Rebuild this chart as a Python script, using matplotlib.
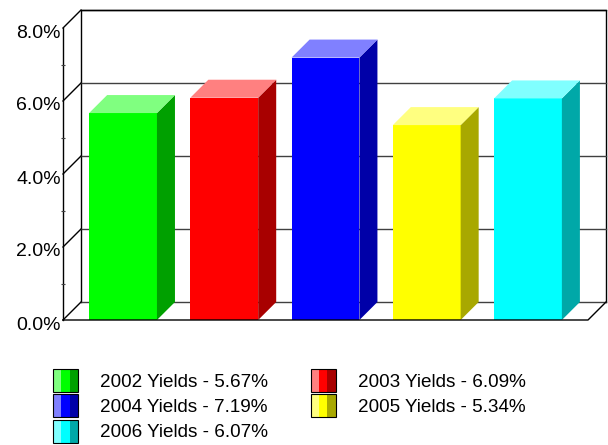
import matplotlib
matplotlib.use("Agg")
import matplotlib.pyplot as plt
import matplotlib.transforms as mtransforms
from matplotlib.patches import Polygon, Rectangle
from matplotlib.legend_handler import HandlerBase

plt.rcParams["font.family"] = ["Liberation Sans", "DejaVu Sans"]

# data
years = ["2002", "2003", "2004", "2005", "2006"]
yields = [5.67, 6.09, 7.19, 5.34, 6.07]
front_colors = ["#00ff00", "#ff0000", "#0000ff", "#ffff00", "#00ffff"]
top_colors = ["#80ff80", "#ff8080", "#8080ff", "#ffff80", "#80ffff"]
side_colors = ["#00a000", "#a80000", "#0000a8", "#a8a800", "#00a8a8"]
y_ticks = [0, 2, 4, 6, 8]
y_minor = [1, 3, 5, 7]


class StripeHandler(HandlerBase):
    # legend key drawn as light / main / dark stripes
    def create_artists(self, legend, orig_handle, xdescent, ydescent,
                       width, height, fontsize, trans):
        light, main, dark = orig_handle
        w = width / 3.0
        arts = []
        for i, c in enumerate([light, main, dark]):
            arts.append(Rectangle((-xdescent + i * w, -ydescent), w, height,
                                  facecolor=c, edgecolor="none", transform=trans))
        arts.append(Rectangle((-xdescent, -ydescent), width, height,
                              facecolor="none", edgecolor="black", lw=0.8,
                              transform=trans))
        return arts


fig = plt.figure(figsize=(6.08, 4.45), dpi=100)
ax = fig.add_axes([63 / 608, 125 / 445, 525 / 608, 292 / 445])

x0, x1 = -0.593, 4.593
ax.set_xlim(x0, x1)
ax.set_ylim(0, 8)
dx, dy = 0.178, 0.493  # depth of the pseudo-3D box in data units
bw = 0.67

for s in ax.spines.values():
    s.set_visible(False)

# back wall, grid and left wall
ax.plot([x0 + dx, x0 + dx, x1 + dx, x1 + dx], [dy, 8 + dy, 8 + dy, dy],
        color="black", lw=1, clip_on=False, zorder=1)
for t in y_ticks:
    col = "black" if t == 8 else "#404040"
    ax.plot([x0 + dx, x1 + dx], [t + dy, t + dy], color=col, lw=1,
            clip_on=False, zorder=1)
    ax.plot([x0, x0 + dx], [t, t + dy], color="black", lw=1,
            clip_on=False, zorder=1)
ax.plot([x0, x0], [0, 8], color="black", lw=1, clip_on=False, zorder=1)

# bars
xs = list(range(len(years)))
ax.bar(xs, yields, width=bw, color=front_colors, zorder=3)
for x, v, tc, sc in zip(xs, yields, top_colors, side_colors):
    r = x + bw / 2
    l = x - bw / 2
    ax.add_patch(Polygon([(r, 0), (r + dx, dy), (r + dx, v + dy), (r, v)],
                         closed=True, facecolor=sc, edgecolor="none", zorder=3))
    ax.add_patch(Polygon([(l, v), (l + dx, v + dy), (r + dx, v + dy), (r, v)],
                         closed=True, facecolor=tc, edgecolor="none", zorder=3))

# floor front edges
ax.plot([x0, x1, x1 + dx], [0, 0, dy], color="black", lw=1,
        clip_on=False, zorder=4)

ax.set_xticks([])
ax.set_yticks(y_ticks)
ax.set_yticklabels([f"{t:.1f}%" for t in y_ticks], fontsize=14)
ax.set_yticks(y_minor, minor=True)
ax.tick_params(axis="y", which="major", length=0, pad=1.5)
ax.tick_params(axis="y", which="minor", length=3, direction="inout",
               width=0.8, color="#404040")
shift = mtransforms.ScaledTranslation(0, -3 / 100, fig.dpi_scale_trans)
for lab in ax.get_yticklabels():
    lab.set_transform(lab.get_transform() + shift)

# legend (row-major order over two columns)
labels = [f"{y} Yields - {v:.2f}%" for y, v in zip(years, yields)]
handles = [(t, f, s) for t, f, s in zip(top_colors, front_colors, side_colors)]
order = [0, 2, 4, 1, 3]
fig.legend([handles[i] for i in order], [labels[i] for i in order],
           handler_map={tuple: StripeHandler()},
           loc="upper left", bbox_to_anchor=(53 / 608, 1 - 369 / 445),
           ncol=2, frameon=False, fontsize=13.6, borderpad=0,
           borderaxespad=0, handlelength=1.32, handleheight=1.5,
           handletextpad=1.16, columnspacing=2.27, labelspacing=0.12)

fig.savefig("out.png", dpi=100)
